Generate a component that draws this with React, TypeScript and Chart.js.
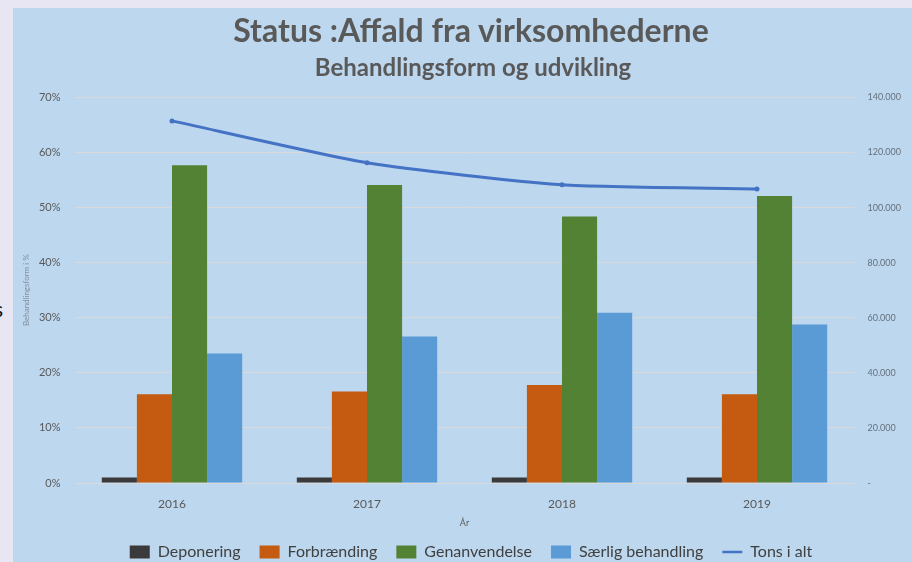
import React, { useEffect, useRef } from 'react';
import { Chart, registerables } from 'chart.js';

Chart.register(...registerables);

const years = ['2016', '2017', '2018', '2019'];
const deponering = [1.0, 1.0, 1.0, 1.0];
const forbraending = [16.1, 16.6, 17.8, 16.1];
const genanvendelse = [57.7, 54.1, 48.4, 52.1];
const saerligBehandling = [23.5, 26.6, 30.9, 28.8];
const tonsIAlt = [131500, 116300, 108300, 106800];

const seriesNames = ['Deponering', 'Forbrænding', 'Genanvendelse', 'Særlig behandling', 'Tons i alt'];
const titleText = 'Status :Affald fra virksomhederne';
const subtitleText = 'Behandlingsform og udvikling';
const leftAxisTitle = 'Behandlingsform i %';
const xAxisTitle = 'År';

const FONT = 'Lato, "Open Sans", sans-serif';
const CANVAS_W = 916;

function fmtThousands(v: number): string {
  if (v === 0) return '-';
  return String(Math.round(v)).replace(/\B(?=(\d{3})+(?!\d))/g, '.');
}

export default function App() {
  const ref = useRef<HTMLCanvasElement | null>(null);

  useEffect(() => {
    if (!ref.current) return;
    const chart = new Chart(ref.current, {
      type: 'bar',
      data: {
        labels: years,
        datasets: [
          { label: seriesNames[0], data: deponering, backgroundColor: '#3a3a3a', yAxisID: 'y', categoryPercentage: 0.72, barPercentage: 1.0 },
          { label: seriesNames[1], data: forbraending, backgroundColor: '#c55a11', yAxisID: 'y', categoryPercentage: 0.72, barPercentage: 1.0 },
          { label: seriesNames[2], data: genanvendelse, backgroundColor: '#548235', yAxisID: 'y', categoryPercentage: 0.72, barPercentage: 1.0 },
          { label: seriesNames[3], data: saerligBehandling, backgroundColor: '#5b9bd5', yAxisID: 'y', categoryPercentage: 0.72, barPercentage: 1.0 },
          {
            type: 'line',
            label: seriesNames[4],
            data: tonsIAlt,
            yAxisID: 'y1',
            borderColor: '#4472c4',
            backgroundColor: '#4472c4',
            borderWidth: 3,
            pointRadius: 2.5,
            pointBackgroundColor: '#4472c4',
            pointBorderWidth: 0,
            tension: 0.2,
            order: -1,
          } as any,
        ],
      },
      options: {
        responsive: false,
        animation: false,
        layout: { padding: { top: 89.5, left: 0, right: 0, bottom: 0 } },
        plugins: {
          tooltip: { enabled: false },
          title: { display: false },
          legend: {
            position: 'bottom',
            labels: {
              font: { family: FONT, size: 16 },
              color: '#404040',
              usePointStyle: true,
              pointStyleWidth: 20,
              boxWidth: 20,
              boxHeight: 13,
              padding: 19,
              sort: (a: any, b: any) => a.datasetIndex - b.datasetIndex,
              generateLabels: (chart: any) => {
                const items = Chart.defaults.plugins.legend.labels.generateLabels(chart);
                return items.map((it: any) => {
                  if (it.datasetIndex === 4) {
                    return { ...it, pointStyle: 'line', strokeStyle: '#4472c4', fillStyle: '#4472c4', lineWidth: 2.5 };
                  }
                  return { ...it, pointStyle: 'rect', lineWidth: 0 };
                });
              },
            },
          },
        },
        scales: {
          x: {
            grid: { display: false, drawTicks: false },
            border: { display: false },
            ticks: { padding: 14, font: { family: FONT, size: 12 }, color: '#595959' },
            title: { display: true, text: xAxisTitle, font: { family: FONT, size: 9 }, color: '#595959', padding: { top: 0, bottom: -3 } },
            afterFit: (s: any) => { s.height = 42; },
          },
          y: {
            position: 'left',
            min: 0,
            max: 70,
            ticks: { stepSize: 10, callback: (v: any) => v + '%', padding: 14, font: { family: FONT, size: 11 }, color: '#595959' },
            grid: { color: '#d9d9d9', lineWidth: 1, drawTicks: false },
            border: { display: false },
            title: { display: true, text: leftAxisTitle, font: { family: FONT, size: 8 }, color: '#7f8f9f', padding: { top: 9, bottom: 0 } },
            afterFit: (s: any) => { s.width = 61.5; },
          },
          y1: {
            position: 'right',
            min: 0,
            max: 140000,
            ticks: { stepSize: 20000, callback: (v: any) => fmtThousands(Number(v)), padding: 13, font: { family: FONT, size: 9 }, color: '#66717c' },
            grid: { display: false, drawTicks: false },
            border: { display: false },
            afterFit: (s: any) => { s.width = CANVAS_W - 841.5; },
          },
        },
      } as any,
    });
    return () => chart.destroy();
  }, []);

  return (
    <div style={{ position: 'absolute', left: 0, top: 0, width: 912, height: 562, overflow: 'hidden', background: '#e8e6f3' }}>
      <span style={{ position: 'absolute', left: -6, top: 296, fontFamily: FONT, fontSize: 21, color: '#111' }}>s</span>
      <div style={{ position: 'absolute', left: 13, top: 8, width: 899, height: 554, background: '#bdd7ee' }} />
      <canvas ref={ref} width={CANVAS_W} height={562} style={{ position: 'absolute', left: 13, top: 8, width: CANVAS_W, height: 562 }} />
      <div style={{ position: 'absolute', left: 0, width: 942, top: 12, textAlign: 'center', fontFamily: FONT, fontWeight: 700, fontSize: 32, lineHeight: '36px', color: '#595959' }}>{titleText}</div>
      <div style={{ position: 'absolute', left: 0, width: 946, top: 53, textAlign: 'center', fontFamily: FONT, fontWeight: 700, fontSize: 24, lineHeight: '28px', color: '#595959' }}>{subtitleText}</div>
    </div>
  );
}
